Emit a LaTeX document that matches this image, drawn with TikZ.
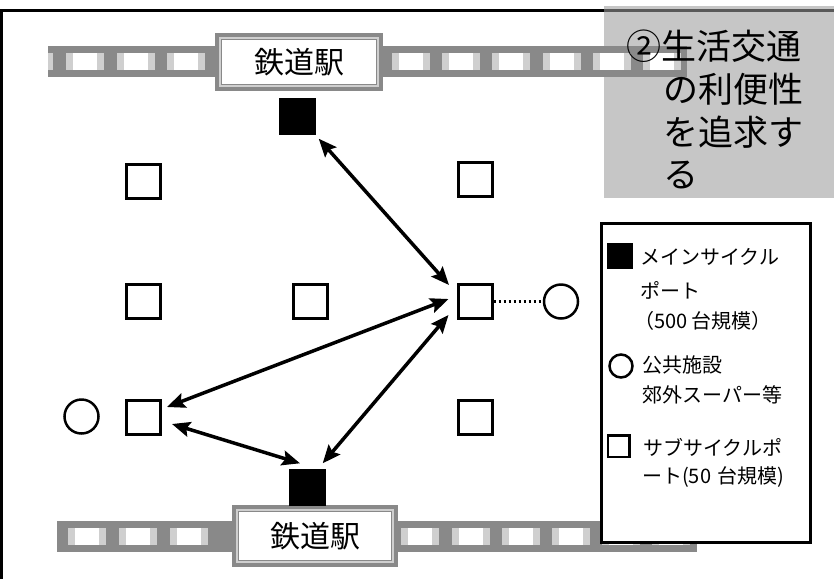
\documentclass[tikz,border=0pt]{standalone}
\usepackage{fontspec}
\setmainfont{Noto Sans CJK JP}
\usetikzlibrary{arrows.meta,calc}
\definecolor{railgrey}{HTML}{898989}
\definecolor{raillight}{HTML}{CFCFCF}
\definecolor{boxgrey}{HTML}{C6C6C6}
\newcommand\myrail[4]{%
  \fill[railgrey] (#1,#3) rectangle (#2,#3+31);
  \begin{scope}
    \clip (#1,#3) rectangle (#2,#3+31);
    \foreach \c in {#4} {
      \fill[raillight] (\c-19,#3+7) rectangle (\c+19,#3+24);
      \fill[white] (\c-12,#3+7) rectangle (\c+12,#3+24);
    }
  \end{scope}}
\begin{document}
\begin{tikzpicture}[x=1pt,y=-1pt,
  sq/.style={draw,line width=3pt,minimum size=34pt,inner sep=0pt},
  msq/.style={fill=black,minimum size=37pt,inner sep=0pt},
  fac/.style={circle,draw,line width=2.5pt,minimum size=34pt,inner sep=0pt},
  arr/.style={line width=3.5pt,{Stealth[length=18pt,width=15pt,inset=3pt]}-{Stealth[length=18pt,width=15pt,inset=3pt]}},
  station/.style={draw=railgrey,line width=7pt,fill=white,minimum width=161pt,minimum height=51pt,inner sep=0pt,font=\fontsize{30}{30}\selectfont},
  goal/.style={anchor=west,inner sep=0pt,font=\fontsize{35}{35}\selectfont},
  legtxt/.style={anchor=west,inner sep=0pt,font=\fontsize{20}{20}\selectfont},
  dots/.style={line width=2.5pt,dash pattern=on 2.5pt off 2.5pt}
]
\useasboundingbox (0,0) rectangle (834,579);
% frame
\draw[line width=3pt] (1.5,579) -- (1.5,10.5) -- (834,10.5);
% grey goal box
\fill[boxgrey] (604,6) rectangle (834,198);
\draw[line width=3pt,color=black!65] (604,10.5) -- (834,10.5);
% rails
\myrail{48}{216}{46}{34,85,136,186}
\myrail{382}{687}{46}{411,461,511,562,612,662}
\myrail{57}{233}{521}{36,87,138,189}
\myrail{397}{697}{521}{420,471,521,571,621,671}
% stations
\node[station] (st1) at (299,62) {鉄道駅};
\draw[raillight,line width=1.5pt] ([shift={(5,5)}]st1.north west) rectangle ([shift={(-5,-5)}]st1.south east);
\node[station,minimum width=159pt,minimum height=55pt] (st2) at (315,536) {鉄道駅};
\draw[raillight,line width=1.5pt] ([shift={(5,5)}]st2.north west) rectangle ([shift={(-5,-5)}]st2.south east);
% goal text
\node[goal] (g1) at (626,46) {②生活交通};
\node[goal] (g2) at (663,89) {の利便性};
\node[goal] (g3) at (663,132) {を追求す};
\node[goal] (g4) at (663,175) {る};
% ports
\node[msq] (topm) at (297,116) {};
\node[msq] (botm) at (307,487) {};
\node[sq] (s1) at (143,181) {};
\node[sq] (s2) at (475,179) {};
\node[sq] (s3) at (143.5,301.5) {};
\node[sq] (s4) at (310.5,301.5) {};
\node[sq] (mr) at (475,301.5) {};
\node[sq] (ll) at (143.5,417.5) {};
\node[sq] (s7) at (475,417.5) {};
\node[fac] (c1) at (561,301.5) {};
\node[fac] (c2) at (81.5,416.5) {};
% connectors
\draw[dots] (mr.east) -- (c1.west);
\draw[arr] ($(topm.south east)+(3,4)$) -- ($(mr.north west)+(-7.5,2)$);
\draw[arr] ($(mr.west)+(-8,-2.5)$) -- ($(ll.east)+(5,-10.5)$);
\draw[arr] ($(mr.south west)+(-8,-5)$) -- ($(botm.north east)+(-3,-5)$);
\draw[arr] ($(ll.east)+(10,6.5)$) -- ($(botm.north)+(-7,-5)$);
% legend
\draw[line width=3pt,fill=white] (601.5,223.5) rectangle (810.5,542.5);
\node[fill=black,minimum size=26pt,inner sep=0pt] (lm) at (620,255.5) {};
\node[legtxt] (lt1) at (640,257) {メインサイクル};
\node[legtxt] (lt2) at (640,290) {ポート};
\node[legtxt] (lt3) at (634,321) {（500 台規模）};
\node[circle,draw,line width=2.5pt,minimum size=23pt,inner sep=0pt] (lc) at (621,366) {};
\node[legtxt] (lt4) at (642,365) {公共施設};
\node[legtxt] (lt5) at (642,395) {郊外スーパー等};
\node[draw,line width=2.5pt,minimum size=21.5pt,inner sep=0pt] (ls) at (618.5,446) {};
\node[legtxt] (lt6) at (643,447) {サブサイクルポ};
\node[legtxt] (lt7) at (642,477) {ート(50\,\,台規模)};
\end{tikzpicture}
\end{document}
